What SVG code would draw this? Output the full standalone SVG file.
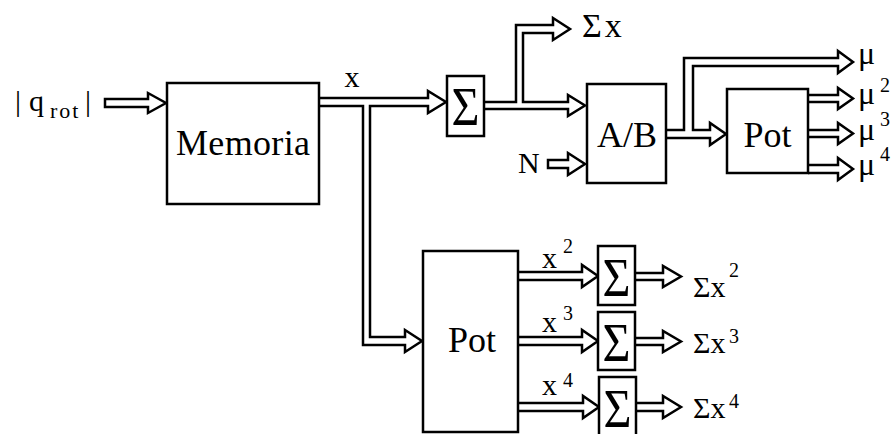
<svg xmlns="http://www.w3.org/2000/svg" width="895" height="434" viewBox="0 0 895 434">
<style>
.box{fill:#fff;stroke:#000;stroke-width:2.5}
.conn{fill:#fff;stroke:#000;stroke-width:2.5;stroke-linejoin:miter;stroke-miterlimit:10}
text{font-family:"Liberation Serif","Times New Roman",Times,"Noto Serif","DejaVu Serif",serif;fill:#000}
.lbl{font-size:30px}
.big{font-size:36px}
.sup{font-size:20px}
.sig{font-size:54px;text-anchor:middle}
</style>
<g id="connectors">
<path class="conn" d="M105,99 H148 V93 L166,103 L148,113 V107 H105 Z"/>
<path class="conn" d="M319,98 H428 V91 L446,102 L428,113 V106 H370 V337 H405 V330 L422,341 L405,352 V345 H363 V106 H319"/>
<path class="conn" d="M485,102 H516 V25 H553 V18 L570,29 L553,40 V33 H523 V102 H568 V95 L585,105.5 L568,116 V109 H485"/>
<path class="conn" d="M548,160 H568 V153 L585,164 L568,175 V168 H548 Z"/>
<path class="conn" d="M666,130 H684 V58 H838 V51 L853,62 L838,73 V66 H693 V130 H710 V123 L726,134 L710,145 V138 H666"/>
<path class="conn" d="M808,95 H838 V88 L853,98.5 L838,109 V102 H808"/>
<path class="conn" d="M808,130 H838 V123 L853,133.5 L838,144 V137 H808"/>
<path class="conn" d="M808,165 H838 V158 L853,169 L838,180 V173 H808"/>
<path class="conn" d="M518,272 H582 V265 L598,276 L582,287 V280 H518"/>
<path class="conn" d="M518,337 H582 V330 L598,341 L582,352 V345 H518"/>
<path class="conn" d="M518,403 H583 V396 L599,407 L583,418 V411 H518"/>
<path class="conn" d="M635,273 H663 V266 L681,276.5 L663,287 V280 H635"/>
<path class="conn" d="M635,338 H663 V331 L681,341.5 L663,352 V345 H635"/>
<path class="conn" d="M636,403 H663 V396 L681,407 L663,418 V411 H636"/>
</g>
<g id="input-label">
<text class="lbl" y="111"><tspan x="15">|</tspan><tspan x="29">q</tspan><tspan x="50" y="118" font-size="22" letter-spacing="2">rot</tspan><tspan x="85" y="111">|</tspan></text>
</g>
<g id="memoria">
<rect class="box" x="167" y="83" width="152" height="121"/>
<text class="big" x="243" y="155" text-anchor="middle" textLength="134" lengthAdjust="spacing">Memoria</text>
</g>
<g id="x-label"><text class="lbl" x="352" y="87" text-anchor="middle">x</text></g>
<g id="sum1">
<rect class="box" x="447" y="76" width="37" height="60"/>
<text class="sig" x="465.5" y="125" textLength="28" lengthAdjust="spacingAndGlyphs">Σ</text>
</g>
<g id="sumx-label"><text x="582" y="37" font-size="34" letter-spacing="3">Σx</text></g>
<g id="ab">
<rect class="box" x="587" y="84" width="79" height="99"/>
<text class="big" x="627" y="147" text-anchor="middle">A/B</text>
</g>
<g id="n-label"><text class="lbl" x="518" y="173">N</text></g>
<g id="pot-upper">
<rect class="box" x="727" y="89" width="81" height="84"/>
<text class="big" x="767.5" y="147" text-anchor="middle">Pot</text>
</g>
<g id="mu-labels">
<text x="858" y="64" font-size="32">μ</text>
<text x="858" y="104" font-size="32">μ<tspan class="sup" x="880" y="92">2</tspan></text>
<text x="858" y="140" font-size="32">μ<tspan class="sup" x="880" y="126">3</tspan></text>
<text x="858" y="175" font-size="32">μ<tspan class="sup" x="880" y="161">4</tspan></text>
</g>
<g id="pot-lower">
<rect class="box" x="423" y="251" width="95" height="181"/>
<text class="big" x="472" y="352" text-anchor="middle">Pot</text>
</g>
<g id="x-powers">
<text class="lbl" x="542" y="268">x<tspan class="sup" x="563" y="253">2</tspan></text>
<text class="lbl" x="542" y="332">x<tspan class="sup" x="563" y="320">3</tspan></text>
<text class="lbl" x="542" y="395">x<tspan class="sup" x="563" y="387">4</tspan></text>
</g>
<g id="sum2">
<rect class="box" x="598" y="246" width="37" height="59"/>
<text class="sig" x="616.5" y="296" textLength="28" lengthAdjust="spacingAndGlyphs">Σ</text>
</g>
<g id="sum3">
<rect class="box" x="598" y="312" width="37" height="58"/>
<text class="sig" x="616.5" y="361" textLength="28" lengthAdjust="spacingAndGlyphs">Σ</text>
</g>
<g id="sum4">
<rect class="box" x="599" y="377" width="37" height="60"/>
<text class="sig" x="617.5" y="427" textLength="28" lengthAdjust="spacingAndGlyphs">Σ</text>
</g>
<g id="sum-labels">
<text class="lbl" x="693" y="297">Σx<tspan class="sup" x="729" y="277">2</tspan></text>
<text class="lbl" x="693" y="353">Σx<tspan class="sup" x="729" y="343">3</tspan></text>
<text class="lbl" x="693" y="418">Σx<tspan class="sup" x="729" y="408">4</tspan></text>
</g>
</svg>
